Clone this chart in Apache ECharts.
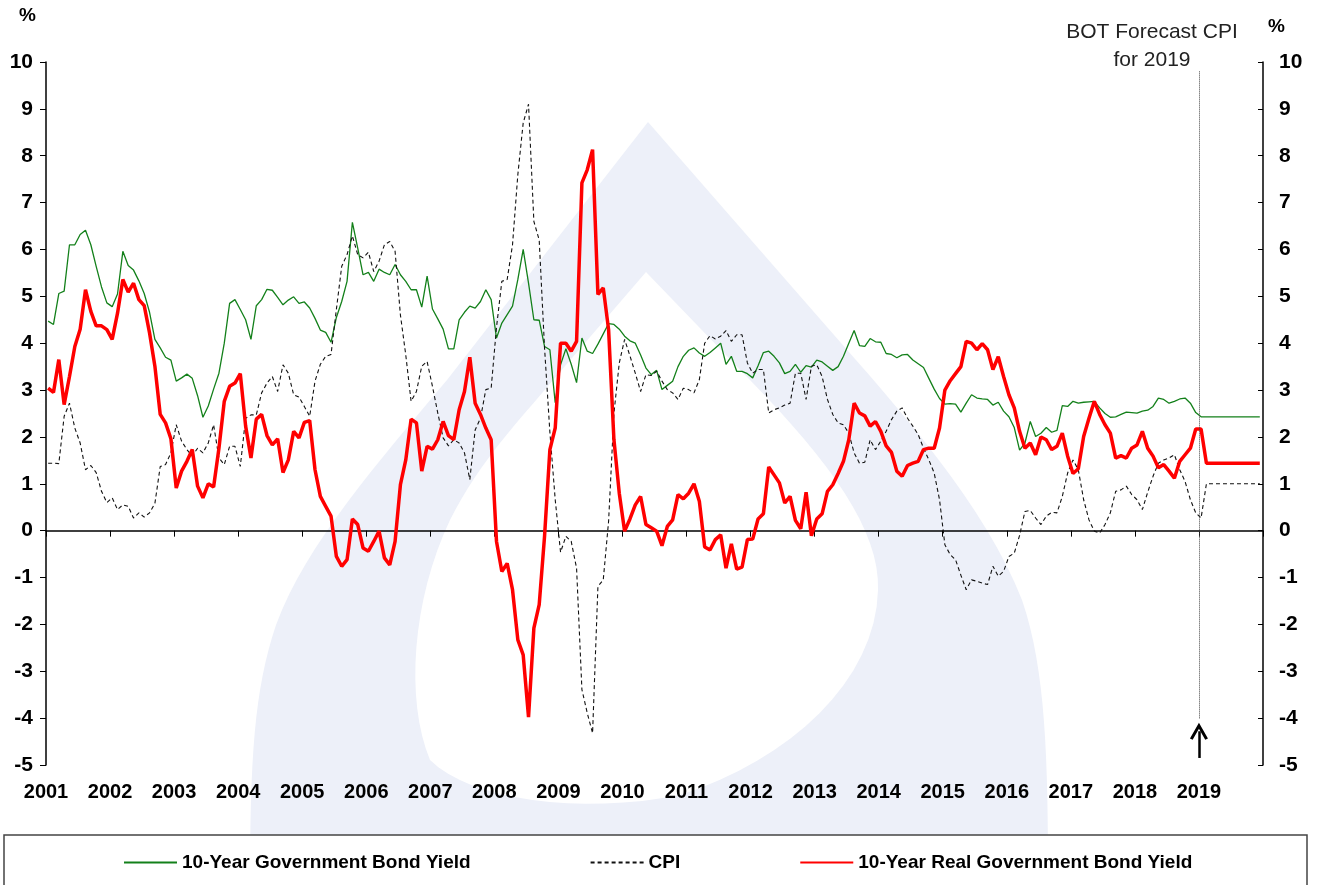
<!DOCTYPE html>
<html>
<head>
<meta charset="utf-8">
<title>10-Year Government Bond Yield</title>
<script src="https://cdn.jsdelivr.net/npm/echarts@6/dist/echarts.min.js"></script>
<style>
  html, body { margin: 0; padding: 0; background: #fff; }
  #chart { width: 1318px; height: 885px; }
</style>
</head>
<body>
<div id="chart"></div>
<script>
// monthly data, Jan 2001 - Dec 2019 (one row = one year)
var startYear = 2001;

var bondYield = [
  4.47, 4.40, 5.06, 5.11, 6.10, 6.10, 6.32, 6.41, 6.10, 5.64, 5.20, 4.86,
  4.78, 5.05, 5.96, 5.66, 5.56, 5.33, 5.06, 4.66, 4.08, 3.90, 3.70, 3.64,
  3.19, 3.26, 3.34, 3.25, 2.88, 2.42, 2.66, 3.02, 3.36, 4.00, 4.85, 4.93,
  4.72, 4.50, 4.08, 4.80, 4.93, 5.15, 5.13, 4.98, 4.82, 4.92, 4.99, 4.85,
  4.88, 4.75, 4.53, 4.28, 4.23, 4.02, 4.55, 4.89, 5.32, 6.58, 6.03, 5.46,
  5.51, 5.32, 5.58, 5.51, 5.46, 5.68, 5.46, 5.32, 5.14, 5.14, 4.77, 5.43,
  4.73, 4.52, 4.30, 3.88, 3.88, 4.50, 4.66, 4.79, 4.75, 4.89, 5.14, 4.93,
  4.11, 4.43, 4.61, 4.79, 5.36, 6.00, 5.28, 4.50, 4.49, 3.93, 3.86, 2.73,
  3.54, 3.88, 3.55, 3.16, 4.11, 3.83, 3.78, 3.98, 4.20, 4.42, 4.40, 4.30,
  4.15, 4.05, 4.00, 3.75, 3.47, 3.33, 3.42, 3.01, 3.10, 3.19, 3.50, 3.72,
  3.85, 3.90, 3.79, 3.72, 3.80, 3.90, 4.00, 3.55, 3.72, 3.40, 3.40, 3.35,
  3.26, 3.52, 3.80, 3.83, 3.72, 3.58, 3.35, 3.40, 3.55, 3.38, 3.52, 3.49,
  3.64, 3.60, 3.51, 3.42, 3.50, 3.72, 4.00, 4.27, 3.95, 3.93, 4.10, 4.03,
  4.02, 3.78, 3.76, 3.69, 3.75, 3.76, 3.64, 3.56, 3.48, 3.25, 3.02, 2.82,
  2.70, 2.71, 2.70, 2.53, 2.72, 2.90, 2.83, 2.81, 2.80, 2.68, 2.74, 2.55,
  2.43, 2.20, 1.72, 1.87, 2.33, 2.01, 2.08, 2.20, 2.10, 2.14, 2.67, 2.65,
  2.76, 2.72, 2.74, 2.75, 2.76, 2.62, 2.50, 2.42, 2.43, 2.48, 2.53, 2.52,
  2.51, 2.55, 2.57, 2.65, 2.83, 2.80, 2.72, 2.76, 2.81, 2.83, 2.72, 2.52,
  2.43, 2.43, 2.43, 2.43, 2.43, 2.43, 2.43, 2.43, 2.43, 2.43, 2.43, 2.43
];

var cpi = [
  1.44, 1.44, 1.43, 2.44, 2.72, 2.19, 1.87, 1.30, 1.39, 1.24, 0.84, 0.60,
  0.70, 0.45, 0.55, 0.52, 0.27, 0.38, 0.29, 0.38, 0.58, 1.37, 1.41, 1.66,
  2.26, 1.91, 1.73, 1.59, 1.76, 1.66, 1.87, 2.26, 1.55, 1.41, 1.80, 1.80,
  1.37, 2.40, 2.47, 2.47, 2.94, 3.15, 3.29, 2.97, 3.54, 3.36, 2.90, 2.85,
  2.65, 2.44, 3.19, 3.55, 3.72, 3.76, 4.72, 5.64, 5.89, 6.29, 5.89, 5.82,
  5.94, 5.53, 5.75, 6.10, 6.17, 5.96, 4.60, 3.75, 2.76, 2.97, 3.51, 3.61,
  3.08, 2.51, 1.98, 1.81, 1.94, 1.87, 1.66, 1.09, 2.15, 2.40, 3.01, 3.04,
  4.34, 5.32, 5.36, 6.10, 7.60, 8.70, 9.10, 6.60, 6.20, 3.90, 2.10, 0.66,
  -0.46, -0.12, -0.23, -0.80, -3.39, -3.89, -4.32, -1.19, -1.05, 0.20, 2.50, 3.58,
  4.08, 3.73, 3.36, 2.97, 3.33, 3.31, 3.40, 3.19, 3.01, 2.94, 2.80, 3.04,
  3.01, 2.94, 3.22, 4.00, 4.16, 4.09, 4.15, 4.27, 4.04, 4.18, 4.18, 3.58,
  3.36, 3.44, 3.44, 2.51, 2.58, 2.62, 2.68, 2.72, 3.36, 3.36, 2.80, 3.51,
  3.54, 3.29, 2.80, 2.48, 2.30, 2.26, 2.08, 1.66, 1.44, 1.46, 1.94, 1.73,
  1.91, 2.12, 2.37, 2.55, 2.62, 2.40, 2.23, 2.05, 1.76, 1.51, 1.23, 0.66,
  -0.30, -0.51, -0.62, -0.95, -1.26, -1.05, -1.08, -1.12, -1.15, -0.76, -0.97, -0.87,
  -0.55, -0.48, -0.10, 0.41, 0.43, 0.27, 0.13, 0.31, 0.39, 0.38, 0.73, 1.23,
  1.51, 1.30, 0.66, 0.23, -0.01, -0.05, 0.13, 0.38, 0.84, 0.87, 0.95, 0.77,
  0.66, 0.45, 0.82, 1.16, 1.44, 1.51, 1.55, 1.62, 1.30, 1.05, 0.66, 0.38,
  0.27, 1.00, 1.00, 1.00, 1.00, 1.00, 1.00, 1.00, 1.00, 1.00, 1.00, 1.00
];

var realYield = [
  3.04, 2.95, 3.65, 2.69, 3.29, 3.93, 4.30, 5.14, 4.68, 4.37, 4.37, 4.29,
  4.08, 4.64, 5.36, 5.09, 5.28, 4.93, 4.80, 4.22, 3.51, 2.48, 2.30, 1.96,
  0.91, 1.27, 1.48, 1.73, 0.95, 0.70, 1.00, 0.93, 1.76, 2.76, 3.08, 3.15,
  3.35, 2.23, 1.55, 2.38, 2.48, 2.03, 1.83, 1.96, 1.24, 1.51, 2.12, 1.98,
  2.31, 2.35, 1.30, 0.73, 0.52, 0.31, -0.55, -0.76, -0.62, 0.25, 0.13, -0.37,
  -0.44, -0.23, -0.01, -0.58, -0.73, -0.23, 0.98, 1.51, 2.38, 2.30, 1.27, 1.80,
  1.74, 1.94, 2.33, 2.03, 1.94, 2.58, 2.97, 3.70, 2.72, 2.48, 2.19, 1.94,
  -0.23, -0.87, -0.70, -1.26, -2.33, -2.65, -3.98, -2.08, -1.58, -0.12, 1.73, 2.19,
  4.00, 4.00, 3.83, 4.04, 7.42, 7.70, 8.13, 5.04, 5.18, 4.29, 1.94, 0.80,
  -0.01, 0.25, 0.55, 0.73, 0.13, 0.06, -0.01, -0.32, 0.09, 0.23, 0.77, 0.68,
  0.80, 1.00, 0.63, -0.35, -0.41, -0.19, -0.09, -0.80, -0.28, -0.82, -0.78, -0.19,
  -0.18, 0.25, 0.36, 1.36, 1.19, 1.02, 0.59, 0.73, 0.22, 0.04, 0.82, -0.11,
  0.25, 0.36, 0.84, 0.98, 1.22, 1.48, 1.94, 2.72, 2.51, 2.45, 2.23, 2.33,
  2.12, 1.81, 1.67, 1.27, 1.16, 1.39, 1.44, 1.48, 1.73, 1.76, 1.76, 2.19,
  3.00, 3.20, 3.35, 3.50, 4.04, 4.00, 3.86, 3.99, 3.86, 3.44, 3.71, 3.29,
  2.90, 2.62, 2.12, 1.76, 1.87, 1.62, 2.00, 1.94, 1.73, 1.80, 2.08, 1.59,
  1.22, 1.32, 2.01, 2.40, 2.76, 2.48, 2.26, 2.08, 1.55, 1.60, 1.55, 1.76,
  1.83, 2.12, 1.76, 1.59, 1.34, 1.41, 1.27, 1.12, 1.48, 1.62, 1.76, 2.17,
  2.17, 1.44, 1.44, 1.44, 1.44, 1.44, 1.44, 1.44, 1.44, 1.44, 1.44, 1.44
];

var seriesNames = ['10-Year Government Bond Yield', 'CPI', '10-Year Real Government Bond Yield'];
var forecastYear = 2019;

var font = "'Liberation Sans', Arial, sans-serif";

// month index -> position on the year axis
function toPoints(values) {
  return values.map(function (v, i) {
    return [startYear + (i + 0.4) / 12, v];
  });
}

// outline for the background logo: straight steps are [x, y], curves are [c1, c2, end]
function outline(start, steps) {
  var pts = [start];
  var cur = start;
  steps.forEach(function (s) {
    if (typeof s[0] === 'number') {
      pts.push(s);
      cur = s;
      return;
    }
    for (var k = 1; k <= 16; k++) {
      var t = k / 16, u = 1 - t;
      pts.push([
        u * u * u * cur[0] + 3 * u * u * t * s[0][0] + 3 * u * t * t * s[1][0] + t * t * t * s[2][0],
        u * u * u * cur[1] + 3 * u * u * t * s[0][1] + 3 * u * t * t * s[1][1] + t * t * t * s[2][1]
      ]);
    }
    cur = s[2];
  });
  return pts;
}

var logoOuter = outline([648, 122], [
  [827, 327],
  [[900, 410], [985, 505], [1022, 600]],
  [[1046, 670], [1048, 760], [1048, 885]],
  [250, 885],
  [[250, 760], [254, 690], [276, 625]],
  [[305, 545], [380, 460], [447, 380]]
]);

var logoInner = outline([646, 272], [
  [750, 380],
  [[830, 462], [880, 530], [878, 590]],
  [[876, 680], [790, 760], [680, 795]],
  [[580, 815], [470, 800], [430, 760]],
  [[405, 700], [412, 600], [450, 520]],
  [[480, 460], [520, 420], [553, 380]]
]);

var myChart = echarts.init(document.getElementById('chart'));

var yAxisBase = {
  type: 'value',
  min: -5,
  max: 10,
  interval: 1,
  splitLine: { show: false },
  axisLine: { show: true, onZero: false, lineStyle: { color: '#000', width: 1.5 } },
  axisLabel: { color: '#000', fontSize: 21, fontWeight: 'bold', fontFamily: font }
};

var option = {
  backgroundColor: '#fff',
  animation: false,
  textStyle: { fontFamily: font },
  grid: { left: 46, right: 55, top: 62, bottom: 120, containLabel: false },
  graphic: [
    {
      type: 'polygon', z: -10, silent: true,
      shape: { points: logoOuter },
      style: { fill: '#edf0f9' }
    },
    {
      type: 'polygon', z: -9, silent: true,
      shape: { points: logoInner },
      style: { fill: '#ffffff' }
    },
    {
      type: 'rect', z: 1,
      shape: { x: 4, y: 835, width: 1303, height: 70 },
      style: { fill: '#fff', stroke: '#444', lineWidth: 1.5 }
    },
    {
      type: 'text', left: 19, top: 6,
      style: { text: '%', fontSize: 19, fontWeight: 'bold', fontFamily: font, fill: '#000' }
    },
    {
      type: 'text', left: 1268, top: 17,
      style: { text: '%', fontSize: 19, fontWeight: 'bold', fontFamily: font, fill: '#000' }
    },
    {
      type: 'text', x: 1152, y: 18,
      style: {
        text: 'BOT Forecast CPI\nfor ' + forecastYear, align: 'center', verticalAlign: 'top',
        fontSize: 21, lineHeight: 28, fontFamily: font, fill: '#222'
      }
    }
  ],
  legend: {
    left: 123,
    top: 853,
    z: 5,
    padding: 0,
    itemWidth: 53,
    itemHeight: 14,
    itemGap: 119,
    itemStyle: { opacity: 0 },
    textStyle: { fontSize: 19, fontWeight: 'bold', fontFamily: font, color: '#000' },
    data: seriesNames
  },
  xAxis: [
    {
      type: 'value', min: 2001, max: 2020, interval: 1, position: 'bottom',
      axisLine: { show: false, onZero: false },
      axisTick: { show: false },
      splitLine: { show: false },
      axisLabel: {
        color: '#000', fontSize: 20, fontWeight: 'bold', fontFamily: font, margin: 17,
        formatter: function (v) { return v < 2020 ? String(v) : ''; }
      }
    },
    {
      // zero line with the year ticks
      type: 'value', min: 2001, max: 2020, interval: 1, position: 'bottom',
      axisLine: { show: true, onZero: true, lineStyle: { color: '#000', width: 1.5 } },
      axisTick: { show: true, length: 6, lineStyle: { color: '#000', width: 1 } },
      axisLabel: { show: false },
      splitLine: { show: false }
    }
  ],
  yAxis: [
    echarts.util.merge({
      position: 'left',
      axisTick: { show: true, length: 6, inside: false, lineStyle: { color: '#000' } },
      axisLabel: { margin: 13 }
    }, yAxisBase, false),
    echarts.util.merge({
      position: 'right',
      axisTick: { show: true, length: 5, inside: true, lineStyle: { color: '#000' } },
      axisLabel: { margin: 16 }
    }, yAxisBase, false)
  ],
  series: [
    {
      name: seriesNames[0],
      type: 'line',
      xAxisIndex: 0,
      yAxisIndex: 0,
      symbol: 'none',
      lineStyle: { color: '#13801a', width: 1.3 },
      itemStyle: { color: '#13801a' },
      data: toPoints(bondYield)
    },
    {
      name: seriesNames[1],
      type: 'line',
      xAxisIndex: 0,
      yAxisIndex: 0,
      symbol: 'none',
      lineStyle: { color: '#111', width: 1.1, type: [4, 3] },
      itemStyle: { color: '#111' },
      data: toPoints(cpi),
      markLine: {
        silent: true,
        symbol: 'none',
        label: { show: false },
        lineStyle: { color: '#444', width: 1, type: [1, 1] },
        data: [
          [{ coord: [forecastYear, 9.8] }, { coord: [forecastYear, -4.02] }]
        ]
      }
    },
    {
      name: seriesNames[2],
      type: 'line',
      xAxisIndex: 0,
      yAxisIndex: 0,
      symbol: 'none',
      lineStyle: { color: '#ff0000', width: 3.5 },
      itemStyle: { color: '#ff0000' },
      data: toPoints(realYield),
      markLine: {
        silent: true,
        symbol: ['none', 'path://M0,12 L6,0 L12,12 L10.2,13 L6,4.5 L1.8,13 Z'],
        symbolSize: [18, 17],
        label: { show: false },
        lineStyle: { color: '#000', width: 2.5, type: 'solid' },
        data: [
          [{ coord: [forecastYear, -4.85] }, { coord: [forecastYear, -4.28] }]
        ]
      }
    }
  ]
};

myChart.setOption(option);
</script>
</body>
</html>
